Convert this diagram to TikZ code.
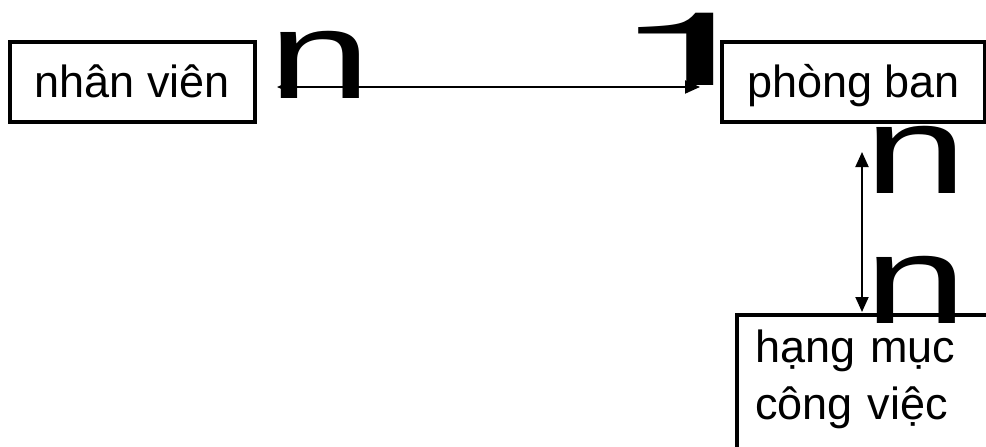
\documentclass[tikz,border=0pt]{standalone}
\usepackage{fontspec}
\setmainfont{Liberation Sans}
\newfontfamily\heros{TeX Gyre Heros}
\usetikzlibrary{arrows.meta}

\begin{document}
\begin{tikzpicture}[
    x=1pt,
    y=-1pt,
    >={Triangle[length=15pt,width=13pt]},
    box/.style={draw, line width=4pt, inner sep=0pt, font=\fontsize{45}{57}\selectfont},
    link/.style={<->, line width=2pt},
    card/.style={inner sep=0pt, anchor=base, font=\fontsize{125}{130}\selectfont, xscale=1.48},
    one/.style={inner sep=0pt, anchor=base, font=\heros\fontsize{102}{104}\selectfont, xscale=3}
]
\useasboundingbox (0,0) rectangle (986,447);
\clip (0,0) rectangle (986,447);

% thuc the
\node[box, minimum width=245pt, minimum height=80pt, text height=32pt, text depth=2pt] (nv) at (132.5,82) {nhân viên};
\node[box, minimum width=263pt, minimum height=80pt, text height=32pt, text depth=2pt] (pb) at (853.5,82) {phòng ban};
\node[box, anchor=north west, align=left, text width=260pt, inner xsep=18pt,
      text height=47pt, text depth=150pt] (hm) at (735,313) {hạng mục\\công việc};

% lien ket
\draw[link, shorten <=20pt, shorten >=20pt] ([yshift=-5pt]nv.east) -- ([yshift=-5pt]pb.west);
\draw[link, shorten <=28pt, shorten >=1pt] ([xshift=8.5pt]pb.south) -- ([xshift=8.5pt]pb.south |- hm.north);

% ban so
\node[card] (nv-n) at (320,98) {n};
\node[one] (pb-1) at (693,85) {1};
\node[card] (pb-n) at (916,193) {n};
\node[card] (hm-n) at (916,323) {n};

\end{tikzpicture}
\end{document}
